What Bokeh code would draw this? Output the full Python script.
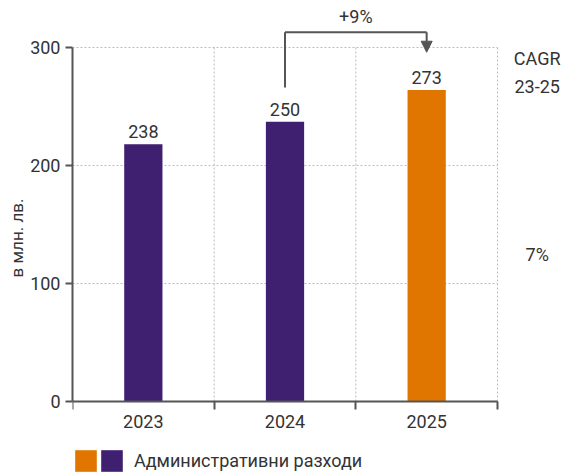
from bokeh.plotting import figure
from bokeh.models import (Range1d, FixedTicker, ColumnDataSource, Label, Arrow,
                          NormalHead, Legend, LegendItem)
from bokeh.embed import file_html
from bokeh.resources import INLINE

# ---- data ----
years = ["2023", "2024", "2025"]
bar_values = [218, 237, 264]          # bar heights as drawn
value_labels = ["238", "250", "273"]  # printed labels
growth_label = "+9%"
cagr_title = ["CAGR", "23-25"]
cagr_value = "7%"
series_name = "Административни разходи"
y_ticks = [0, 100, 200, 300]

PURPLE = "#3F1F70"
ORANGE = "#E07500"
colors = [PURPLE, PURPLE, ORANGE]
TXT = "#333333"
AX = "#555555"
GRID = "#bbbbbb"
FONT = "Roboto"

n = len(years)
xs = [i + 0.5 for i in range(n)]
y_max = y_ticks[-1]

# frame spans the whole canvas except the left axis panel:
# 0..300 occupies pixels 401..47, categories 0..n occupy pixels 72..497
px_per_y = 354 / y_max
px_per_x = 425 / n
y_lo = -(475 - 401) / px_per_y
y_hi = 401 / px_per_y
x_hi = (567 - 72) / px_per_x

src = ColumnDataSource(dict(x=xs, top=bar_values, lab=value_labels, color=colors))

p = figure(width=567, height=475, output_backend="svg", toolbar_location=None,
           x_range=Range1d(0, x_hi), y_range=Range1d(y_lo, y_hi),
           min_border_left=72, min_border_right=0, min_border_top=0,
           min_border_bottom=0)
p.outline_line_color = None
p.background_fill_color = "white"
p.border_fill_color = "white"
p.xgrid.visible = False
p.ygrid.visible = False

# dotted grid restricted to the chart area
p.segment(x0=[0] * (len(y_ticks) - 1), x1=[n] * (len(y_ticks) - 1),
          y0=y_ticks[1:], y1=y_ticks[1:], line_color=GRID, line_dash="2 2",
          line_width=1)
p.segment(x0=list(range(1, n + 1)), x1=list(range(1, n + 1)),
          y0=[0] * n, y1=[y_max] * n, line_color=GRID, line_dash="2 2",
          line_width=1)

bars = p.vbar(x="x", top="top", width=0.27, bottom=0, source=src,
              fill_color="color", line_color=None)

p.text(x="x", y="top", text="lab", source=src, text_align="center",
       text_baseline="bottom", y_offset=-6, text_font_size="18px",
       text_color=TXT, text_font={"value": FONT})

# x axis (fixed at y=0)
xa = p.xaxis[0]
xa.fixed_location = 0
xa.bounds = (0, n)
xa.ticker = FixedTicker(ticks=xs, minor_ticks=list(range(n + 1)))
xa.major_label_overrides = {x: y for x, y in zip(xs, years)}
xa.major_tick_out = 0
xa.major_tick_in = 0
xa.minor_tick_out = 8
xa.minor_tick_in = 0
xa.minor_tick_line_color = AX
xa.minor_tick_line_width = 2
xa.axis_line_color = AX
xa.axis_line_width = 2
xa.major_label_standoff = 5
xa.major_label_text_font_size = "18px"
xa.major_label_text_color = TXT
xa.major_label_text_font = FONT

ya = p.yaxis[0]
ya.bounds = (0, y_max)
ya.ticker = FixedTicker(ticks=y_ticks, minor_ticks=[])
ya.major_tick_out = 7
ya.major_tick_in = 0
ya.major_tick_line_color = AX
ya.major_tick_line_width = 2
ya.axis_line_color = AX
ya.axis_line_width = 2
ya.major_label_standoff = 5
ya.major_label_text_font_size = "18px"
ya.major_label_text_color = TXT
ya.major_label_text_font = FONT
ya.axis_label = "в млн. лв."
ya.axis_label_text_font_style = "normal"
ya.axis_label_text_font_size = "17px"
ya.axis_label_text_color = TXT
ya.axis_label_text_font = FONT
ya.axis_label_standoff = 0

# growth arrow between 2024 and 2025
arrow_top = 313
p.add_layout(Arrow(end=None, x_start=xs[1], y_start=266, x_end=xs[1], y_end=arrow_top,
                   line_color=AX, line_width=2))
p.add_layout(Arrow(end=None, x_start=xs[1], y_start=arrow_top, x_end=xs[2], y_end=arrow_top,
                   line_color=AX, line_width=2))
p.add_layout(Arrow(end=NormalHead(size=11, fill_color=AX, line_color=AX),
                   x_start=xs[2], y_start=arrow_top, x_end=xs[2], y_end=296,
                   line_color=AX, line_width=2))
p.add_layout(Label(x=(xs[1] + xs[2]) / 2, y=arrow_top + 4, text=growth_label,
                   text_align="center", text_baseline="bottom",
                   text_font_size="18px", text_color=TXT, text_font=FONT))

# CAGR column
for txt, yv in [(cagr_title[0], 291), (cagr_title[1], 267), (cagr_value, 125)]:
    p.add_layout(Label(x=n + 0.28, y=yv, text=txt, text_align="center",
                       text_baseline="middle", text_font_size="18px",
                       text_color=TXT, text_font=FONT))

# legend: two swatches then text
leg_a = Legend(items=[LegendItem(label="", renderers=[bars], index=2)],
               location=(0, 1), glyph_width=27, glyph_height=27, label_width=0,
               label_standoff=0, padding=0, margin=0, border_line_color=None,
               background_fill_alpha=0, label_text_font_size="1px")
leg_b = Legend(items=[LegendItem(label=series_name, renderers=[bars], index=0)],
               location=(26, 1), glyph_width=27, glyph_height=27,
               label_standoff=9, padding=0, margin=0, border_line_color=None,
               background_fill_alpha=0, label_text_font_size="18px",
               label_text_color=TXT, label_text_font=FONT)
p.add_layout(leg_a, "center")
p.add_layout(leg_b, "center")

open("out.html", "w").write(file_html(p, INLINE))
